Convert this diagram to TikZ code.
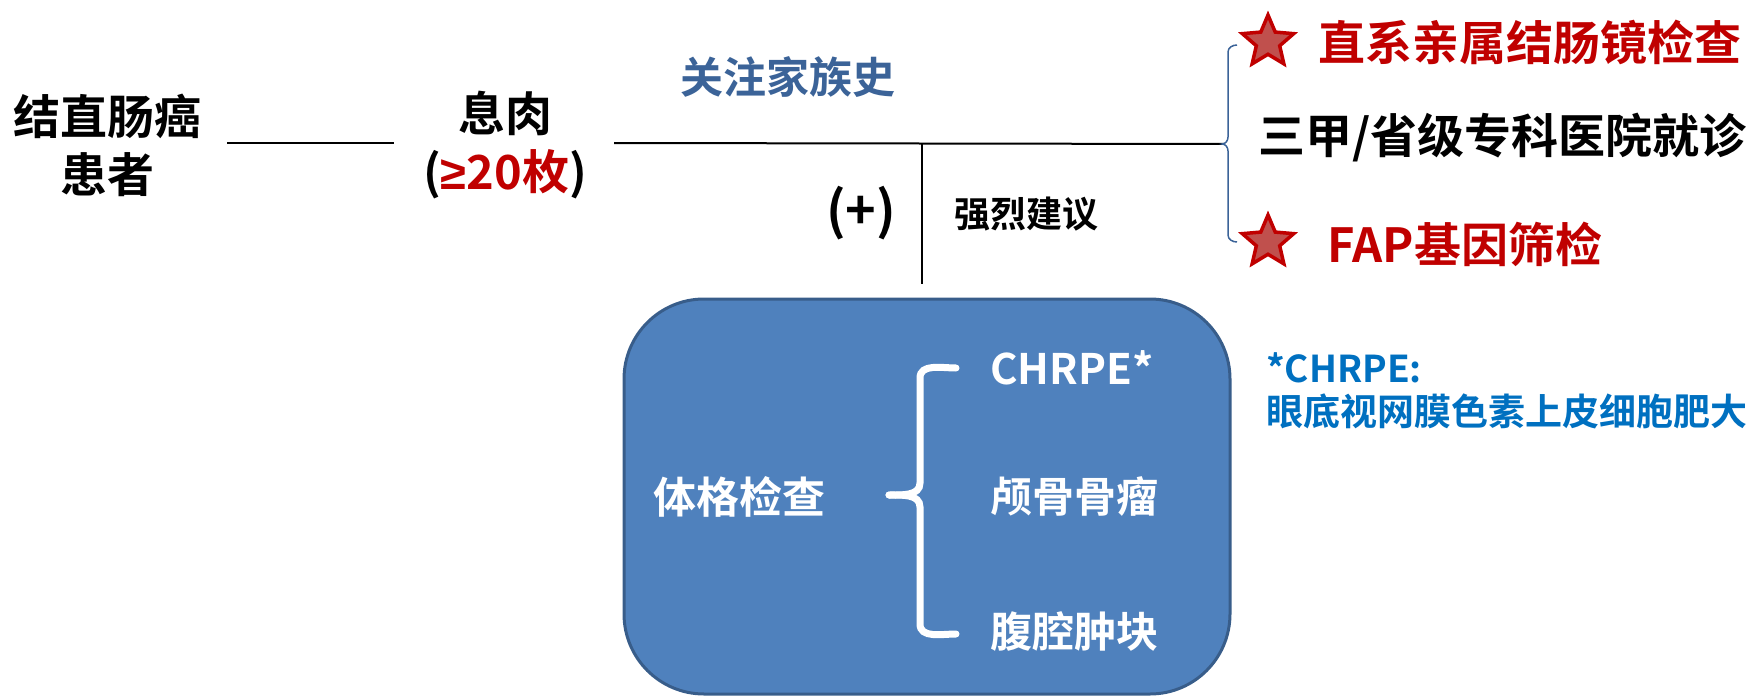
\documentclass[tikz,border=0pt]{standalone}
\usepackage{fontspec}
\setmainfont{Noto Sans CJK SC}[BoldFont={Noto Sans CJK SC Bold}]
\newfontfamily\latf{Liberation Sans}
\usetikzlibrary{shapes.geometric}
\definecolor{myred}{HTML}{C00000}
\definecolor{starfill}{HTML}{C0504D}
\definecolor{hdrblue}{HTML}{3B6398}
\definecolor{noteblue}{HTML}{0070C0}
\definecolor{boxfill}{HTML}{4F81BD}
\definecolor{boxline}{HTML}{385D8A}
\tikzset{
  txt/.style={inner sep=0pt, font=\bfseries\fontsize{#1}{#1}\selectfont},
  bigtxt/.style={inner sep=0pt, align=center, font=\bfseries\fontsize{47}{58}\selectfont},
  redstar/.style={star, star points=5, star point ratio=2.2, minimum size=54pt, inner sep=0pt, fill=starfill, draw=myred, line width=3.5pt},
  link/.style={line width=2pt, black},
}
\begin{document}
\begin{tikzpicture}[x=1pt,y=-1pt]
\useasboundingbox (0,0) rectangle (1764,698);
% left part
\node[bigtxt] (pat) at (107,145) {结直肠癌\\患者};
\node[bigtxt] (pol) at (505,145) {息肉\\(\textcolor{myred}{{\latf\bfseries ≥}20枚})};
\coordinate (a1) at (227,143);
\coordinate (a2) at (394,143);
\draw[link] (a1) -- (a2);
\coordinate (b1) at (614,143);
\coordinate (b2) at (1224,144);
\coordinate (bj) at (922,143.5);
\coordinate (bd) at (922,284);
\draw[link] (b1) -- (b2);
\draw[link] (bj) -- (bd);
\node[txt=43, text=hdrblue] (fam) at (788,77) {关注家族史};
\node[txt=52] (plus) at (861,213) {(+)};
\node[txt=36] (adv) at (1026,214) {强烈建议};
% right brace
\draw[hdrblue, line width=1.5pt] (1237,45) to[out=180,in=90] (1228,52) -- (1228,137)
  to[out=-90,in=0] (1222,144) to[out=0,in=90] (1228,151) -- (1228,235) to[out=-90,in=180] (1237,242);
\node[redstar] (s1) at (1268,42) {};
\node[txt=47, text=myred, anchor=west] (r1) at (1318,42) {直系亲属结肠镜检查};
\node[txt=47, anchor=west] (r2) at (1258,138) {三甲/省级专科医院就诊};
\node[redstar] (s2) at (1268,242) {};
\node[txt=47, text=myred, anchor=west] (r3) at (1327,244) {FAP基因筛检};
% box
\draw[fill=boxfill, draw=boxline, line width=3pt, rounded corners=80pt] (624,299) rectangle (1230,694);
\node[txt=43, text=white] (exam) at (739,497) {体格检查};
\draw[white, line width=7pt, line cap=round] (956,368) to[out=180,in=90] (920,378) -- (920,483)
  to[out=-90,in=0] (889,495);
\draw[white, line width=7pt, line cap=round] (889,495) to[out=0,in=90] (920,507) -- (920,624) to[out=-90,in=180] (956,634);
\node[txt=42, text=white, anchor=west] (c1) at (990,368) {CHRPE*};
\node[txt=42, text=white, anchor=west] (c2) at (990,496) {颅骨骨瘤};
\node[txt=42, text=white, anchor=west] (c3) at (990,632) {腹腔肿块};
% note
\node[txt=37, text=noteblue, anchor=west] (n1) at (1266,368) {*CHRPE:};
\node[txt=37, text=noteblue, anchor=west] (n2) at (1266,411) {眼底视网膜色素上皮细胞肥大};
\end{tikzpicture}
\end{document}
